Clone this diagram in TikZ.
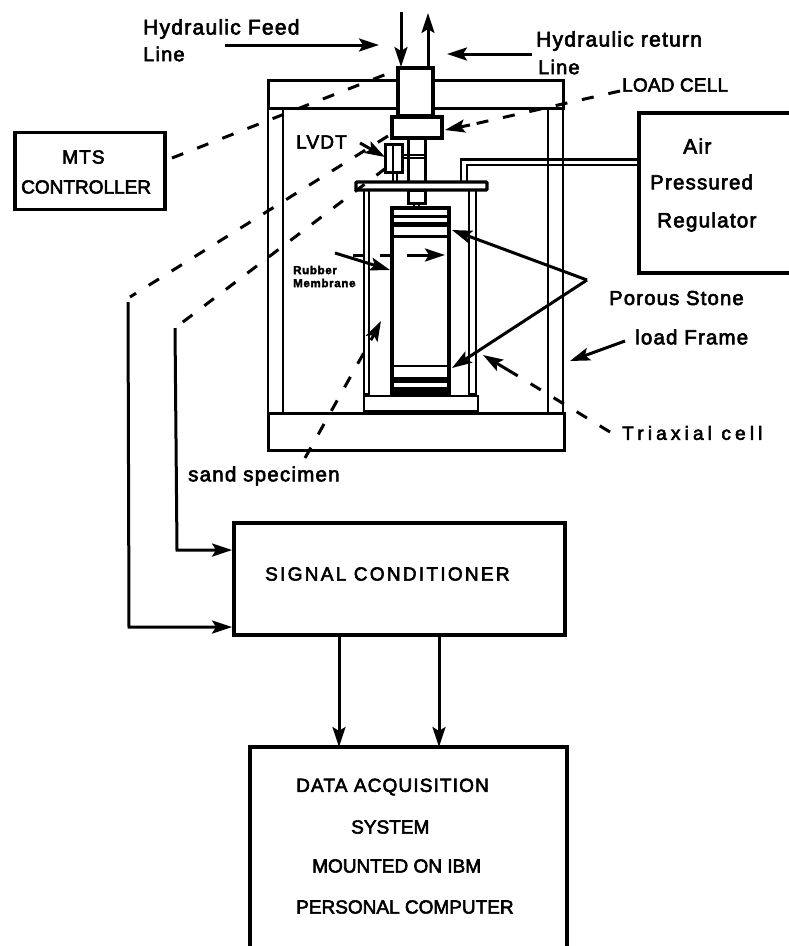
\documentclass[tikz,border=0pt]{standalone}
\usepackage{fontspec}
\setmainfont{Liberation Sans}[FakeBold=3,LetterSpace=6]
\usepackage{tikz}
\usetikzlibrary{arrows.meta}
\tikzset{
  lbl/.style={anchor=west, inner sep=0pt, font=\fontsize{#1}{#1}\selectfont},
  lbl/.default=19,
  tightlbl/.style={anchor=west, inner sep=0pt, font=\fontsize{19}{19}\selectfont\addfontfeature{LetterSpace=#1}},
  tightlbl/.default=0,
  smalllbl/.style={anchor=west, inner sep=0pt, font=\fontsize{11.5}{11.5}\selectfont\bfseries},
  panel/.style={draw, line width=3.8pt, inner sep=0pt},
  part/.style={draw, line width=3pt, fill=white},
  lead/.style={line width=3pt, -{Stealth[length=20pt,width=13pt,inset=4pt]}},
  dashlead/.style={line width=3pt, dash pattern=on 12pt off 15pt},
}

\begin{document}
\begin{tikzpicture}[x=1pt, y=-1pt]
  \useasboundingbox (0,0) rectangle (789,946);

  % boxes of the instruments
  \node[panel, minimum width=150pt, minimum height=77pt] (mts) at (90,171) {};
  \node[panel, minimum width=170pt, minimum height=160pt] (air) at (724,193) {};
  \node[panel, minimum width=331pt, minimum height=112pt] (signal) at (399.5,579) {};
  \coordinate (TLd) at (250,747);
  \coordinate (TRd) at (567,747);
  \coordinate (BLd) at (250,946);
  \coordinate (BRd) at (567,946);
  \draw[line width=3.8pt] (BLd) -- (TLd) -- (TRd) -- (BRd);

  % load frame
  \draw[line width=2.6pt] (268,108) rectangle (283,413);
  \draw[line width=2.6pt] (548,108) rectangle (563,413);
  \draw[part] (268,80) rectangle (563,108);
  \draw[part] (268,413) rectangle (564,450);

  % actuator, load cell and rod
  \draw[part, line width=3.4pt] (398,68) rectangle (433,116);
  \draw[part, line width=3.4pt] (392,117) rectangle (442,138);
  \draw[part] (408,138) rectangle (425,182);
  \draw[line width=2.4pt] (402,155) -- (425,155);
  \draw[line width=2.4pt] (402,158) -- (425,158);
  \draw[part] (385,144) rectangle (402,172);
  \draw[line width=2pt] (393,144) -- (393,182);
  \draw[line width=2pt] (397,172) -- (397,182);

  % triaxial cell
  \draw[part, line width=2.6pt] (364,190) rectangle (369,394);
  \draw[part, line width=2.6pt] (469,190) rectangle (476,394);
  \draw[part, rounded corners=1pt, line width=3.4pt] (356,182) rectangle (487,190);
  \draw[part] (408,190) rectangle (425,203);
  \draw[line width=2.2pt] (414,203) -- (414,207) (419,203) -- (419,207);
  \draw[part, line width=3.6pt] (392,208) rectangle (449,394);
  \foreach \yy/\ww in {216/3, 224/5, 236/3, 366/2.4, 380/6, 389/5} {
    \draw[line width=\ww pt] (392,\yy) -- (449,\yy);
  }
  \draw[part, line width=2.8pt] (364,396) rectangle (478,411);
  \draw[line width=3.6pt] (364,412) -- (478,412);

  % air line
  \draw[line width=2.8pt] (461,182) -- (461,159.5) -- (air.west |- 0,159.5);
  \draw[line width=2.8pt] (467,182) -- (467,165) -- (air.west |- 0,165);

  % labels
  \node[lbl=21] (feed) at (143,29) {Hydraulic Feed};
  \node[lbl=20] (feedb) at (143,54) {Line};
  \node[lbl=21] (ret) at (536,41) {Hydraulic return};
  \node[lbl=20] (retb) at (538,67) {Line};
  \node[tightlbl=1] (load) at (622,85) {LOAD CELL};
  \node[lbl] (lvdt) at (296,142) {LVDT};
  \node[lbl=21] (airt) at (683,146) {Air};
  \node[lbl=20.4] (press) at (650,182) {Pressured};
  \node[lbl=20.6] (regul) at (657,222) {Regulator};
  \node[lbl] (mtsa) at (62,157) {MTS};
  \node[tightlbl] (mtsb) at (21,187) {CONTROLLER};
  \node[lbl=20.2] (stone) at (609,298) {Porous Stone};
  \node[lbl=20.4] (frame) at (635,337) {load Frame};
  \node[tightlbl=22] (cell) at (622,433) {Triaxial cell};
  \node[lbl=20.5] (sand) at (188,476) {sand specimen};
  \node[smalllbl] (rubber) at (293,270) {Rubber};
  \node[smalllbl] (membr) at (293,283) {Membrane};
  \node[tightlbl=12] (sigt) at (265,574) {SIGNAL CONDITIONER};
  \node[lbl] (dataa) at (296,787) {DATA ACQUISITION};
  \node[tightlbl] (datab) at (351,827) {SYSTEM};
  \node[tightlbl] (datac) at (312,866) {MOUNTED ON IBM};
  \node[tightlbl] (datad) at (296,907) {PERSONAL COMPUTER};

  % hydraulic lines
  \coordinate (FA) at (401,12);
  \coordinate (FB) at (401,67);
  \coordinate (RA) at (428,67);
  \coordinate (RB) at (428,13);
  \draw[lead] (FA) -- (FB);
  \draw[lead] (RA) -- (RB);
  \coordinate (FS) at (225,45);
  \coordinate (FT) at (379,45);
  \coordinate (RS) at (532,54);
  \coordinate (RT) at (447,54);
  \draw[lead] (FS) -- (FT);
  \draw[lead] (RS) -- (RT);

  % dashed leaders
  \coordinate (MS) at (172,158);
  \coordinate (MT) at (397,70);
  \draw[dashlead] (MS) -- (MT);
  \coordinate (LS) at (620,91);
  \coordinate (LM) at (470,125);
  \coordinate (LT) at (445,130);
  \draw[dashlead] (LS) -- (LM);
  \draw[lead] (LM) -- (LT);
  \coordinate (VA) at (388,136);
  \coordinate (VB) at (130,297);
  \draw[dashlead] (VA) -- (VB);
  \coordinate (WA) at (386,168);
  \coordinate (WB) at (175,328);
  \draw[dashlead] (WA) -- (WB);
  \coordinate (VC) at (128,302);
  \coordinate (VD) at (129,627);
  \draw[lead] (VC) -- (VD) -- (signal.west |- VD);
  \coordinate (WD) at (177,550);
  \draw[lead] (WB) -- (WD) -- (signal.west |- WD);

  % pointers in the cell
  \coordinate (LV) at (360,143);
  \coordinate (LVt) at (385,157);
  \draw[lead] (LV) -- (LVt);
  \coordinate (RM) at (335,253);
  \coordinate (RMt) at (390,270);
  \draw[lead] (RM) -- (RMt);
  \coordinate (DA) at (353,255);
  \coordinate (DB) at (410,255);
  \coordinate (DT) at (445,255);
  \draw[dashlead] (DA) -- (DB);
  \draw[lead] (DB) -- (DT);
  \coordinate (SA) at (305,458);
  \coordinate (SB) at (371,340);
  \coordinate (ST) at (381,321);
  \draw[dashlead] (SA) -- (SB);
  \draw[lead] (SB) -- (ST);
  \coordinate (PO) at (587,280);
  \coordinate (PA) at (452,230);
  \coordinate (PB) at (452,368);
  \draw[lead] (PO) -- (PA);
  \draw[lead] (PO) -- (PB);
  \coordinate (LF) at (625,341);
  \coordinate (LFt) at (570,361);
  \draw[lead] (LF) -- (LFt);
  \coordinate (TA) at (610,432);
  \coordinate (TB) at (513,373);
  \coordinate (TT) at (483,355);
  \draw[dashlead] (TA) -- (TB);
  \draw[lead] (TB) -- (TT);

  % signal lines
  \coordinate (SL) at (339,747);
  \coordinate (SR) at (439,747);
  \draw[lead] (signal.south -| SL) -- (SL);
  \draw[lead] (signal.south -| SR) -- (SR);
\end{tikzpicture}
\end{document}
